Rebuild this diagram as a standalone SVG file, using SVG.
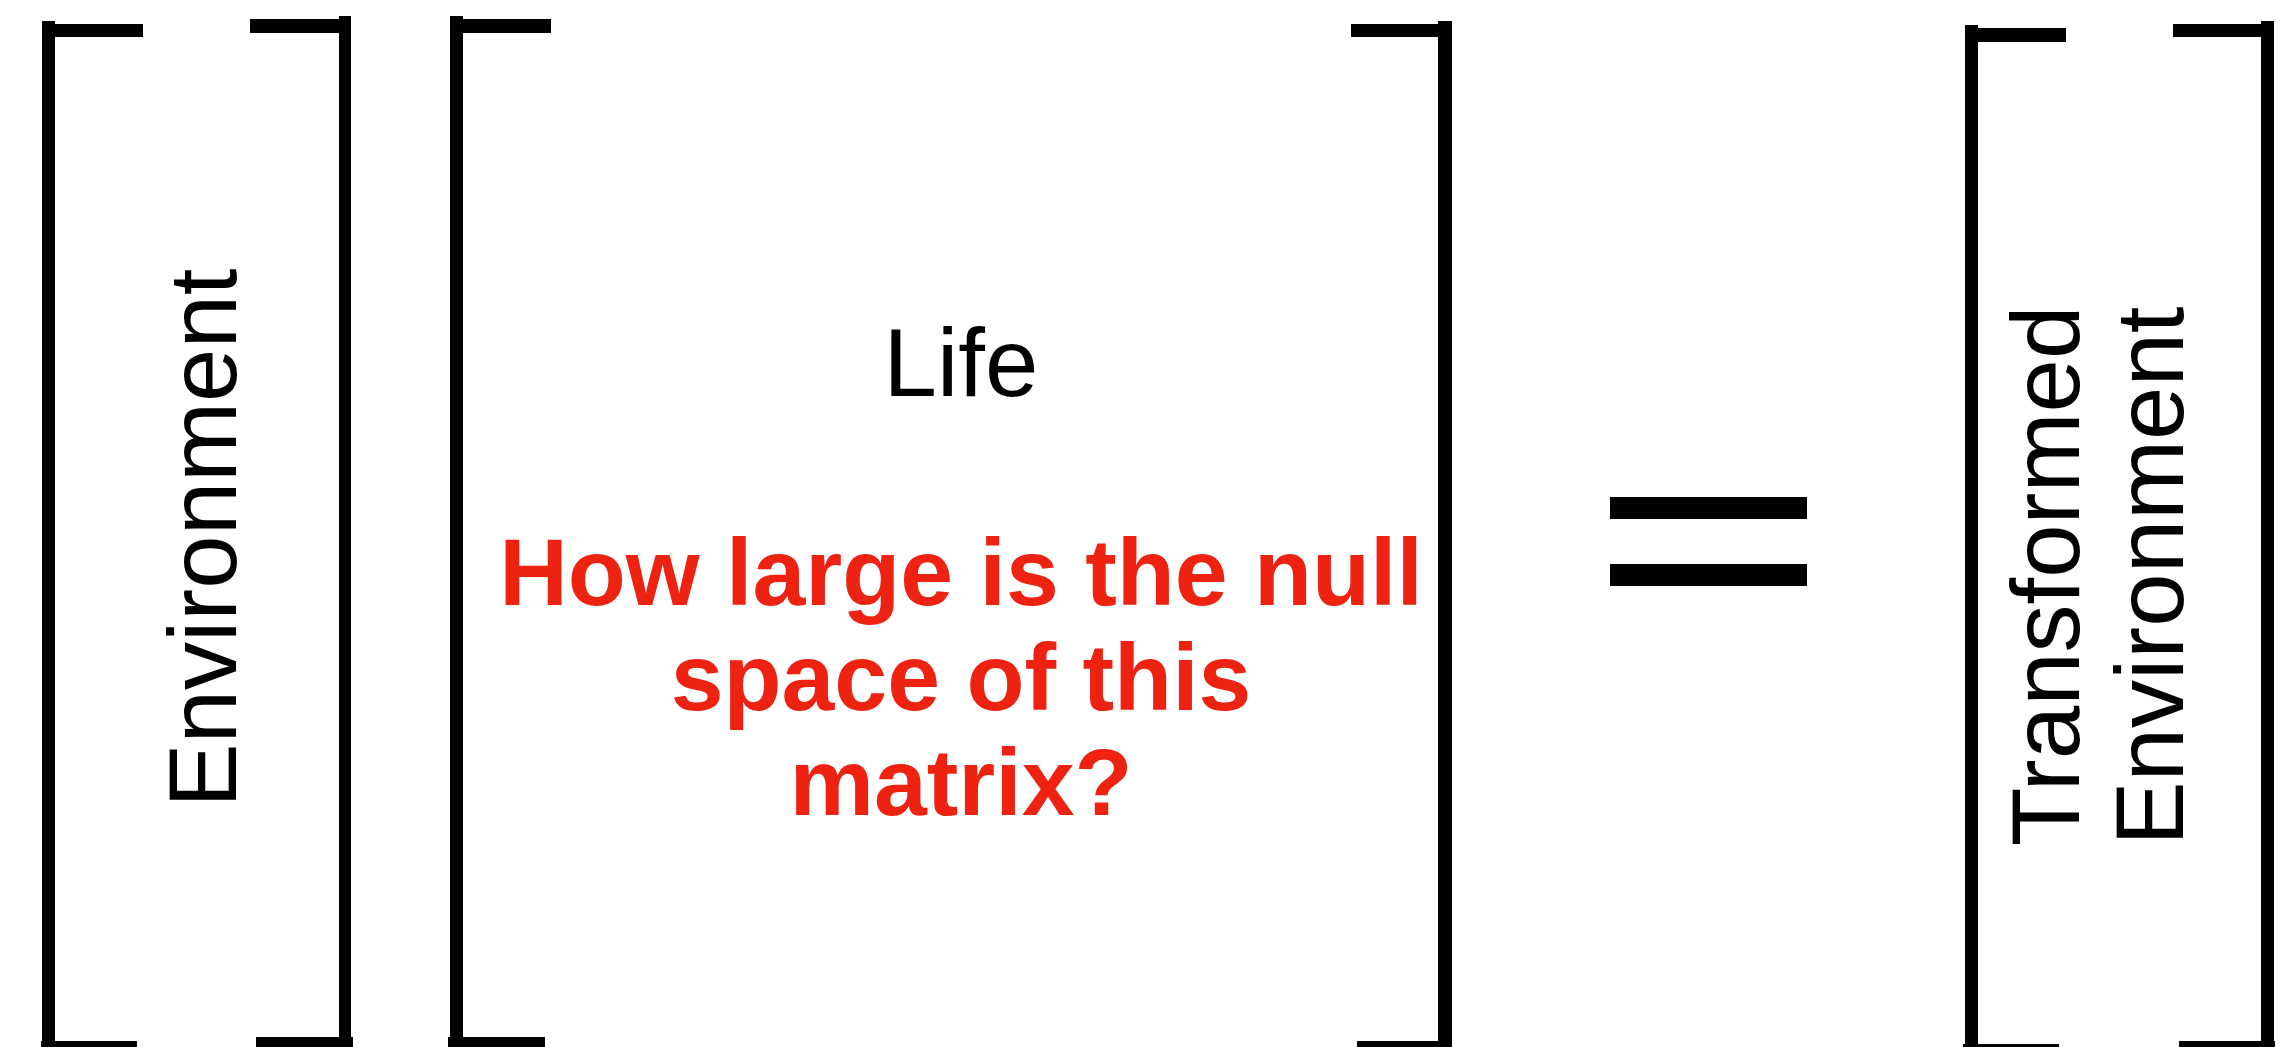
<svg xmlns="http://www.w3.org/2000/svg" width="2295" height="1047" viewBox="0 0 2295 1047">
  <style>
    .br { fill: #000; }
    .lbl { font-family: "Liberation Sans", Arial, Helvetica, sans-serif; font-size: 96px; fill: #000; }
    .q { font-family: "Liberation Sans", Arial, Helvetica, sans-serif; font-size: 95px; font-weight: bold; fill: #EE2211; }
  </style>
  <rect width="2295" height="1047" fill="#fff"/>
  <g id="environment">
    <rect class="br" x="42" y="21" width="13" height="1040"/>
    <rect class="br" x="55" y="24" width="88" height="13"/>
    <rect class="br" x="41" y="1041" width="96" height="12"/>
    <rect class="br" x="339" y="16" width="12" height="1040"/>
    <rect class="br" x="250" y="19" width="89" height="14"/>
    <rect class="br" x="256" y="1037" width="97" height="14"/>
    <text class="lbl" text-anchor="middle" transform="translate(236,538) rotate(-90)">Environment</text>
  </g>
  <g id="life">
    <rect class="br" x="450" y="16" width="13" height="1040"/>
    <rect class="br" x="463" y="19" width="88" height="14"/>
    <rect class="br" x="448" y="1037" width="97" height="14"/>
    <rect class="br" x="1438" y="21" width="14" height="1040"/>
    <rect class="br" x="1351" y="24" width="87" height="13"/>
    <rect class="br" x="1357" y="1041" width="95" height="12"/>
    <text class="lbl" x="961" y="396" text-anchor="middle">Life</text>
    <text class="q" text-anchor="middle"><tspan x="961" y="605">How large is the null</tspan><tspan x="961" y="710">space of this</tspan><tspan x="961" y="815">matrix?</tspan></text>
  </g>
  <g id="equals">
    <rect class="br" x="1610" y="497" width="197" height="22"/>
    <rect class="br" x="1610" y="564" width="197" height="22"/>
  </g>
  <g id="transformed-environment">
    <rect class="br" x="1965" y="25" width="13" height="1040"/>
    <rect class="br" x="1978" y="28" width="88" height="14"/>
    <rect class="br" x="1963" y="1044" width="96" height="10"/>
    <rect class="br" x="2261" y="21" width="13" height="1040"/>
    <rect class="br" x="2173" y="24" width="88" height="13"/>
    <rect class="br" x="2179" y="1041" width="96" height="12"/>
    <text class="lbl" text-anchor="middle" transform="translate(2079,576) rotate(-90)">Transformed</text>
    <text class="lbl" text-anchor="middle" transform="translate(2183,576) rotate(-90)">Environment</text>
  </g>
  <g id="connectors"></g>
</svg>
